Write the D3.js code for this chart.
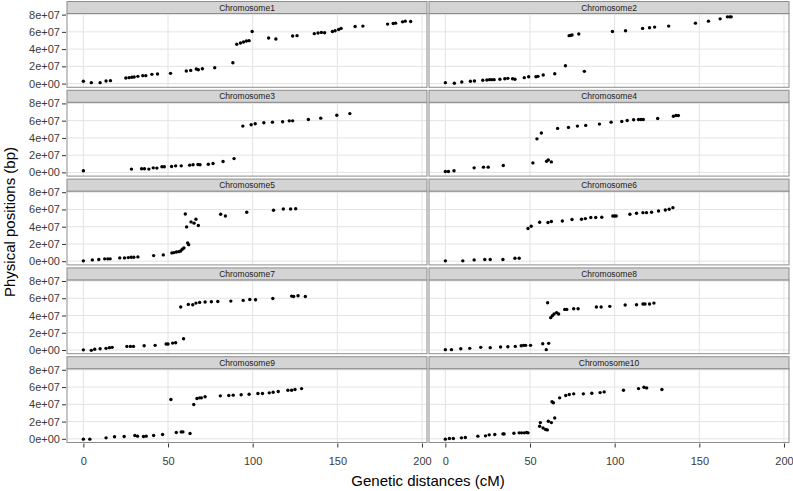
<!DOCTYPE html>
<html>
<head>
<meta charset="utf-8">
<script src="https://cdn.jsdelivr.net/npm/d3@7"></script>
<style>
  html, body { margin: 0; padding: 0; background: #fff; }
  svg { display: block; font-family: "Liberation Sans", Arial, sans-serif; }
</style>
</head>
<body>
<svg id="chart" width="793" height="491"></svg>
<script>
// ---- Data (genetic distance cM, physical position bp) ----
const chromosomes = ["Chromosome1","Chromosome2","Chromosome3","Chromosome4","Chromosome5",
                     "Chromosome6","Chromosome7","Chromosome8","Chromosome9","Chromosome10"];

const chr1 = [[0,2.7e6],[4.7,1.1e6],[9.9,1.1e6],[13.4,3.1e6],[16.0,3.4e6],[25.1,6.5e6],[27.0,6.9e6],[28.6,7.3e6],[30.0,7.7e6],[32.2,8.4e6],[35.1,9.2e6],[36.9,9.2e6],[40.5,10.7e6],[43.8,11.1e6],[51.5,11.9e6],[60.8,14.6e6],[63.4,15.3e6],[66.7,16.9e6],[67.9,16.1e6],[70.3,17.2e6],[77.6,18.4e6],[88.3,24.1e6],[90.6,45.6e6],[92.8,47.1e6],[94.6,48.3e6],[96.3,49.4e6],[97.9,49.8e6],[99.7,60.5e6],[109.4,52.9e6],[113.7,51.7e6],[123.6,55.2e6],[126.2,55.6e6],[136.4,57.9e6],[138.6,58.6e6],[140.6,59.4e6],[142.5,59.0e6],[147.1,60.5e6],[148.7,61.3e6],[150.8,62.8e6],[152.2,64.0e6],[160.5,66.3e6],[165.1,66.7e6],[179.7,69.0e6],[183.0,69.7e6],[184.4,70.1e6],[188.5,71.6e6],[190.1,72.4e6],[193.3,72.0e6]];
const chr2 = [[0,1.1e6],[5.3,0.4e6],[9.7,1.9e6],[14.8,2.7e6],[17.2,3.1e6],[22.1,3.8e6],[24.5,4.2e6],[26.1,4.6e6],[27.4,4.6e6],[28.8,4.6e6],[32.2,5.0e6],[35.1,5.7e6],[36.9,6.1e6],[39.7,5.7e6],[41.1,5.0e6],[46.6,6.9e6],[49.2,8.0e6],[53.5,8.0e6],[54.7,8.4e6],[57.8,10.0e6],[64.6,11.5e6],[70.9,20.7e6],[73.1,55.6e6],[73.8,55.9e6],[74.8,56.3e6],[78.8,57.5e6],[82.1,14.2e6],[98.7,60.5e6],[106.4,61.3e6],[116.5,64.0e6],[120.6,64.8e6],[123.6,65.5e6],[131.9,66.7e6],[147.7,70.1e6],[155.4,72.4e6],[162.3,75.1e6],[166.6,77.4e6],[168.0,77.4e6],[168.8,77.4e6]];
const chr3 = [[0,1.9e6],[28.4,3.8e6],[34.4,4.2e6],[36.1,4.2e6],[38.7,3.8e6],[41.3,5.3e6],[43.4,5.0e6],[46.4,6.5e6],[47.8,6.5e6],[52.1,6.9e6],[54.5,7.6e6],[57.8,7.6e6],[62.8,8.4e6],[64.8,8.8e6],[67.7,9.1e6],[68.9,8.8e6],[73.8,9.5e6],[76.6,10.3e6],[82.5,12.6e6],[89.0,16.0e6],[94.2,53.7e6],[99.1,55.2e6],[101.5,56.4e6],[106.6,57.5e6],[111.7,58.3e6],[117.7,58.7e6],[121.6,59.8e6],[123.6,59.8e6],[132.9,61.3e6],[140.2,62.9e6],[149.7,66.3e6],[157.4,68.2e6]];
const chr4 = [[0,1.1e6],[1.8,1.1e6],[5.1,1.9e6],[17.0,5.3e6],[22.5,6.1e6],[25.3,6.1e6],[34.2,8.0e6],[51.7,11.0e6],[54.1,38.9e6],[56.7,45.7e6],[59.8,13.0e6],[60.8,14.5e6],[62.6,12.2e6],[66.3,51.0e6],[72.7,52.2e6],[78.0,53.7e6],[82.9,54.5e6],[91.0,56.0e6],[97.9,58.3e6],[104.2,59.0e6],[107.4,60.2e6],[111.2,61.0e6],[114.1,61.3e6],[115.5,61.3e6],[116.9,61.3e6],[125.4,62.5e6],[134.7,65.1e6],[136.2,65.9e6],[137.6,65.9e6]];
const chr5 = [[0,0.4e6],[5.3,1.5e6],[9.1,1.9e6],[12.6,2.7e6],[14.4,2.7e6],[15.8,2.7e6],[21.5,3.8e6],[24.3,3.8e6],[26.5,4.2e6],[28.2,4.6e6],[29.8,4.6e6],[32.2,5.0e6],[41.5,6.5e6],[47.2,7.3e6],[52.3,9.6e6],[53.5,10.0e6],[54.9,10.7e6],[56.3,11.1e6],[57.5,11.9e6],[58.4,13.8e6],[59.4,15.3e6],[60.2,54.8e6],[61.0,39.8e6],[61.6,21.1e6],[62.2,19.2e6],[63.6,45.6e6],[65.4,44.1e6],[66.5,48.7e6],[67.9,41.4e6],[81.1,54.4e6],[83.9,52.5e6],[96.5,56.7e6],[112.3,59.0e6],[118.1,60.5e6],[122.4,60.5e6],[125.4,60.9e6]];
const chr6 = [[0,0.4e6],[10.3,0.4e6],[17.0,1.5e6],[23.3,1.9e6],[26.5,1.9e6],[34.0,1.9e6],[41.1,3.4e6],[43.6,3.4e6],[48.8,37.9e6],[50.7,40.6e6],[55.7,45.2e6],[60.6,44.8e6],[62.6,46.0e6],[69.1,46.7e6],[74.8,48.3e6],[80.4,48.7e6],[82.7,49.4e6],[85.9,50.6e6],[88.8,50.6e6],[92.4,51.0e6],[98.9,52.5e6],[99.9,52.5e6],[100.9,52.5e6],[109.0,54.4e6],[112.9,55.6e6],[116.7,56.3e6],[118.8,56.3e6],[121.8,56.7e6],[125.9,58.2e6],[129.9,59.4e6],[132.2,60.2e6],[134.4,62.1e6]];
const chr7 = [[0,0.2e6],[4.7,-0.4e6],[6.7,0.8e6],[9.9,1.5e6],[13.4,1.9e6],[15.4,2.7e6],[17.0,3.1e6],[25.7,4.2e6],[27.8,4.2e6],[29.6,4.2e6],[35.9,5.0e6],[42.4,5.4e6],[48.9,6.9e6],[50.0,6.9e6],[52.7,8.0e6],[54.5,8.4e6],[59.2,13.0e6],[57.5,49.8e6],[62.0,52.9e6],[64.6,52.5e6],[66.5,54.4e6],[68.7,55.2e6],[71.9,55.6e6],[75.6,55.9e6],[79.4,56.3e6],[87.1,56.7e6],[94.4,57.5e6],[98.3,58.6e6],[101.7,58.2e6],[111.9,59.8e6],[123.0,62.5e6],[124.2,62.1e6],[126.8,62.9e6],[131.1,62.1e6]];
const chr8 = [[0,0.4e6],[3.6,0.4e6],[9.1,1.5e6],[14.4,1.9e6],[20.9,3.1e6],[26.5,2.7e6],[32.6,3.4e6],[36.9,3.8e6],[41.3,4.2e6],[44.8,5.0e6],[46.2,5.4e6],[47.4,5.4e6],[50.3,5.4e6],[57.5,7.3e6],[59.6,0.4e6],[61.0,7.7e6],[60.4,54.8e6],[62.2,37.5e6],[63.2,39.8e6],[64.2,41.8e6],[65.7,43.3e6],[66.9,41.8e6],[70.5,47.1e6],[71.7,47.1e6],[75.8,47.9e6],[78.4,47.9e6],[89.2,49.8e6],[92.0,49.8e6],[97.1,50.6e6],[106.2,52.1e6],[112.9,52.5e6],[116.7,53.3e6],[117.9,53.3e6],[120.6,53.3e6],[123.2,54.4e6]];
const chr9 = [[0,-0.4e6],[3.8,-0.4e6],[13.4,1.1e6],[18.4,2.3e6],[24.1,2.7e6],[30.4,3.8e6],[32.0,3.1e6],[35.5,2.7e6],[37.1,3.1e6],[41.5,3.8e6],[46.8,5.0e6],[51.7,45.6e6],[54.9,7.3e6],[57.8,8.0e6],[58.8,8.0e6],[63.0,6.1e6],[65.2,39.8e6],[67.1,46.7e6],[68.7,47.5e6],[69.7,47.5e6],[71.9,48.7e6],[80.9,49.8e6],[85.9,50.2e6],[88.5,50.6e6],[93.2,51.0e6],[97.9,51.7e6],[103.1,52.5e6],[105.8,52.5e6],[109.8,53.3e6],[112.1,54.0e6],[115.1,54.8e6],[120.8,56.3e6],[123.0,56.3e6],[125.0,57.1e6],[128.9,58.2e6]];
const chr10 = [[0,-0.4e6],[2.4,0.4e6],[4.7,0.4e6],[9.5,1.1e6],[11.8,1.5e6],[19.2,3.1e6],[23.7,3.4e6],[25.9,4.6e6],[29.2,5.0e6],[34.0,5.7e6],[34.7,5.7e6],[40.5,6.5e6],[43.6,6.9e6],[45.0,6.9e6],[46.6,6.9e6],[48.0,7.3e6],[48.8,6.9e6],[55.7,14.6e6],[56.1,18.8e6],[57.7,12.6e6],[59.2,10.7e6],[60.2,10.3e6],[60.8,20.3e6],[62.6,18.8e6],[63.0,42.9e6],[63.8,41.8e6],[64.6,24.1e6],[67.5,47.5e6],[71.1,50.2e6],[73.2,51.3e6],[75.8,52.1e6],[81.5,52.1e6],[86.5,52.9e6],[91.4,53.6e6],[93.8,54.4e6],[105.2,56.3e6],[114.1,58.2e6],[117.3,59.8e6],[118.9,59.0e6],[127.9,57.1e6]];

const seriesList = [chr1, chr2, chr3, chr4, chr5, chr6, chr7, chr8, chr9, chr10];
const xTicks = [0, 50, 100, 150, 200];
const yTicks = [0, 2e7, 4e7, 6e7, 8e7];
const xTitle = "Genetic distances (cM)";
const yTitle = "Physical positions (bp)";

// ---- Layout ----
const svg = d3.select("#chart");
const colX = [67, 429];
const panelW = 360;
const rowPitch = 88.8;
const top0 = 1.5;
const stripH = 12;
const panelH = 73.8;

// common scales (ggplot fixed scales with 5% expansion)
const allX = seriesList.flat().map(d => d[0]);
const allY = seriesList.flat().map(d => d[1]);
const xMin = d3.min(allX), xMax = d3.max(allX);
const yMin = d3.min(allY), yMax = d3.max(allY);
const xPad = (xMax - xMin) * 0.05, yPad = (yMax - yMin) * 0.05;

const fmtSci = v => {
  if (v === 0) return "0e+00";
  const e = Math.floor(Math.log10(Math.abs(v)));
  const m = v / Math.pow(10, e);
  return `${Math.round(m)}e+${String(e).padStart(2, "0")}`;
};

chromosomes.forEach((name, i) => {
  const col = i % 2, row = Math.floor(i / 2);
  const left = colX[col];
  const stripTop = top0 + row * rowPitch;
  const pTop = stripTop + stripH;
  const pBot = pTop + panelH;

  const x = d3.scaleLinear().domain([xMin - xPad, xMax + xPad]).range([left, left + panelW]);
  const y = d3.scaleLinear().domain([yMin - yPad, yMax + yPad]).range([pBot, pTop]);

  const g = svg.append("g");

  g.append("rect").attr("x", left).attr("y", pTop).attr("width", panelW).attr("height", panelH)
    .attr("fill", "#fff");

  g.selectAll(".gx").data(xTicks).join("line")
    .attr("x1", d => x(d)).attr("x2", d => x(d)).attr("y1", pTop).attr("y2", pBot)
    .attr("stroke", "#e3e3e3").attr("stroke-width", 1);
  g.selectAll(".gy").data(yTicks).join("line")
    .attr("x1", left).attr("x2", left + panelW).attr("y1", d => y(d)).attr("y2", d => y(d))
    .attr("stroke", "#e3e3e3").attr("stroke-width", 1);

  g.selectAll("circle").data(seriesList[i]).join("circle")
    .attr("cx", d => x(d[0])).attr("cy", d => y(d[1])).attr("r", 1.7).attr("fill", "#000");

  g.append("rect").attr("x", left).attr("y", pTop).attr("width", panelW).attr("height", panelH)
    .attr("fill", "none").attr("stroke", "#8c8c8c").attr("stroke-width", 1);

  g.append("rect").attr("x", left).attr("y", stripTop).attr("width", panelW).attr("height", stripH)
    .attr("fill", "#d4d4d4").attr("stroke", "#8c8c8c").attr("stroke-width", 1);
  g.append("text").attr("x", left + panelW / 2).attr("y", stripTop + stripH / 2)
    .attr("text-anchor", "middle").attr("dominant-baseline", "central")
    .attr("font-size", 8.5).attr("fill", "#1a1a1a").text(name);

  if (col === 0) {
    const ya = d3.axisLeft(y).tickValues(yTicks).tickFormat(fmtSci).tickSize(4).tickPadding(2);
    const ag = g.append("g").attr("transform", `translate(${left - 1},0)`).call(ya);
    ag.select(".domain").remove();
    ag.selectAll(".tick line").attr("stroke", "#333");
    ag.selectAll(".tick text").attr("font-size", 11).attr("fill", "#3a3a3a")
      .attr("font-family", "Liberation Sans, Arial, sans-serif");
  }
  if (row === 4) {
    const xa = d3.axisBottom(x).tickValues(xTicks).tickFormat(d3.format("d")).tickSize(4).tickPadding(10);
    const ag = g.append("g").attr("transform", `translate(0,${pBot + 1})`).call(xa);
    ag.select(".domain").remove();
    ag.selectAll(".tick line").attr("stroke", "#333");
    ag.selectAll(".tick text").attr("font-size", 11).attr("fill", "#3a3a3a")
      .attr("font-family", "Liberation Sans, Arial, sans-serif");
  }
});

svg.append("text").attr("x", (colX[0] + colX[1] + panelW) / 2).attr("y", 486)
  .attr("text-anchor", "middle").attr("font-size", 15).attr("fill", "#000").text(xTitle);
svg.append("text").attr("transform", `translate(15,${top0 + (4 * rowPitch + stripH + panelH) / 2}) rotate(-90)`)
  .attr("text-anchor", "middle").attr("font-size", 15).attr("fill", "#000").text(yTitle);
</script>
</body>
</html>
